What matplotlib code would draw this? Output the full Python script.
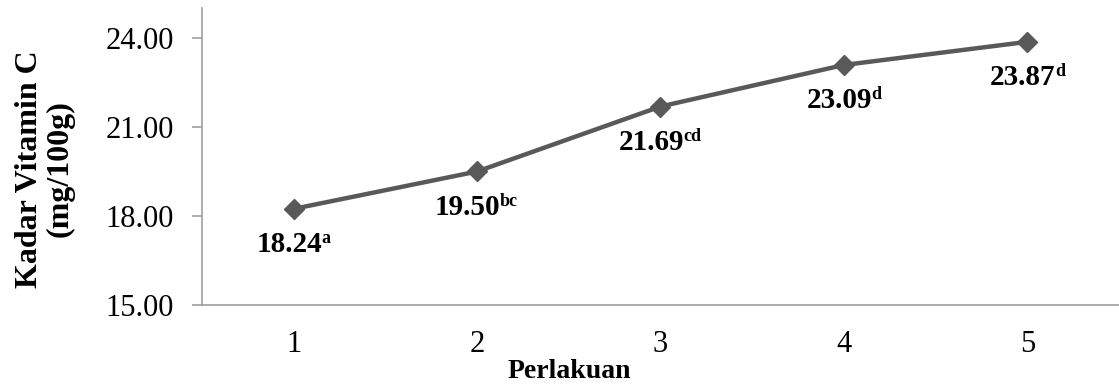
import matplotlib.pyplot as plt

plt.rcParams['font.family'] = ['Liberation Serif', 'DejaVu Serif']

# Perlakuan dan kadar vitamin C
perlakuan = [1, 2, 3, 4, 5]
kadar_vit_c = [18.24, 19.50, 21.69, 23.09, 23.87]
notasi = ['a', 'bc', 'cd', 'd', 'd']
y_ticks = [15, 18, 21, 24]

fig = plt.figure(figsize=(11.19, 3.85), dpi=100)
ax = fig.add_axes([0.1805, 0.2078, 0.8195, 0.7706])

ax.plot(perlakuan, kadar_vit_c, color='#595959', linewidth=3.2,
        marker='D', markersize=10, zorder=3)

# label nilai di bawah titik, notasi huruf sebagai superscript
fs_label, fs_sup = 21, 13
lebar_angka = 2.25 * fs_label          # lebar "dd.dd" dalam pt
for x, y, n in zip(perlakuan, kadar_vit_c, notasi):
    geser = -3.3 * len(n)
    ax.annotate(f"{y:.2f}", (x, y), xytext=(geser, -31),
                textcoords='offset points', ha='center', va='baseline',
                fontsize=fs_label, fontweight='bold')
    ax.annotate(n, (x, y), xytext=(geser + lebar_angka / 2 - 0.5, -24.5),
                textcoords='offset points', ha='left', va='baseline',
                fontsize=fs_sup, fontweight='bold')

ax.set_xlim(0.5, 5.5)
ax.set_ylim(15, 25)
ax.set_xticks(perlakuan)
ax.set_yticks(y_ticks)
ax.set_yticklabels([f"{v:.2f}" for v in y_ticks])

for s in ['top', 'right']:
    ax.spines[s].set_visible(False)
for s in ['left', 'bottom']:
    ax.spines[s].set_color('#a0a0a0')
    ax.spines[s].set_linewidth(1.2)

ax.tick_params(axis='y', length=7, width=1.2, color='#a0a0a0', pad=13, labelsize=22)
ax.tick_params(axis='x', length=0, pad=18, labelsize=22)

fig.text(0.040, 0.561, 'Kadar Vitamin C\n(mg/100g)', rotation=90,
         ha='center', va='center', multialignment='center',
         fontsize=23, fontweight='bold', linespacing=1.1)
fig.text(0.509, 0.034, 'Perlakuan', ha='center', va='center',
         fontsize=20, fontweight='bold')

fig.savefig('out.png', dpi=100)
